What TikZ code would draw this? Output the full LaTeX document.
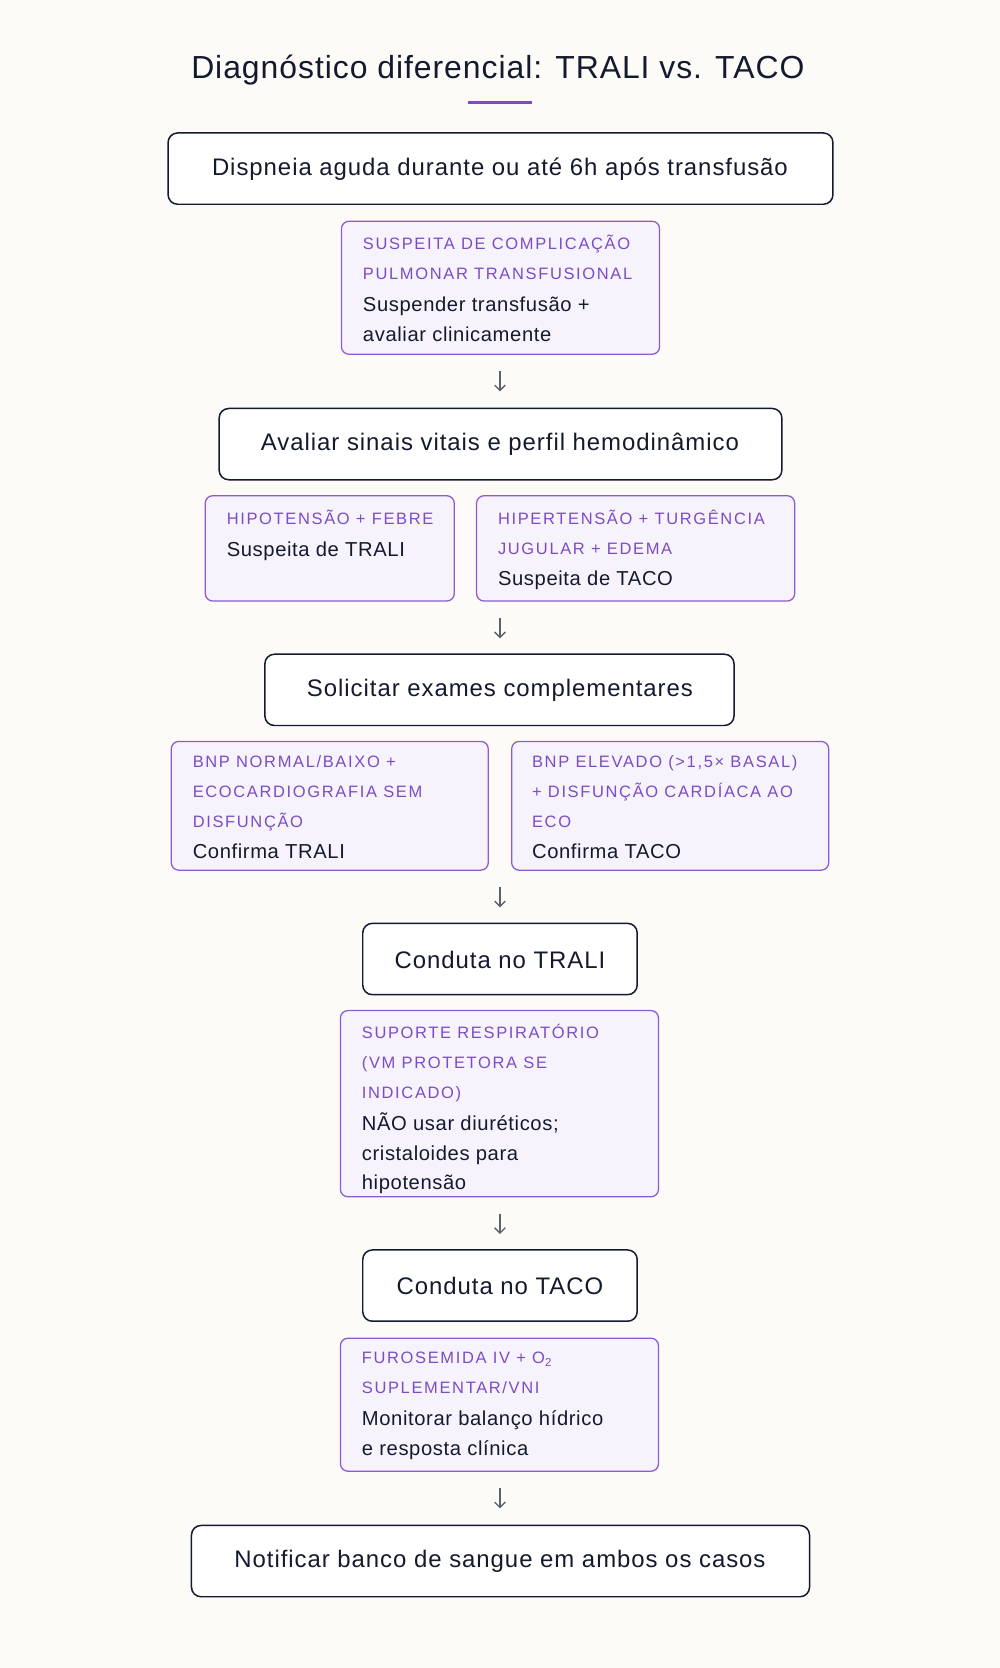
\documentclass[tikz,border=0pt]{standalone}
\usepackage{fontspec}
\setmainfont{Liberation Sans}
\usetikzlibrary{arrows.meta}
\definecolor{bg}{HTML}{FDFBF8}
\definecolor{pur}{HTML}{7B4CC4}
\definecolor{purb}{HTML}{8A5CD0}
\definecolor{lav}{HTML}{F7F3FD}
\definecolor{ink}{HTML}{141A2E}
\definecolor{arr}{HTML}{5A6270}
\tikzset{x=1pt,y=-1pt,
 box/.style={draw=ink,line width=1.4pt,rounded corners=9pt,fill=white},
 note/.style={draw=purb,line width=1.2pt,rounded corners=7pt,fill=lav},
 btxt/.style={text=ink,font=\fontsize{22.5}{26}\selectfont\addfontfeature{LetterSpace=4}},
 ntxt/.style={anchor=north west,align=left,inner sep=0pt,text=ink,font=\fontsize{19}{28}\selectfont\addfontfeature{LetterSpace=3}},
 ar/.style={draw=arr,line width=1.3pt,-{Straight Barb[length=5pt,width=10pt]}}}
\newcommand{\labon}{\color{pur}\fontsize{15.5}{22}\selectfont\addfontfeature{LetterSpace=10}}
\begin{document}
\begin{tikzpicture}
\fill[bg] (0,0) rectangle (940,1568);
\useasboundingbox (0,0) rectangle (940,1568);
\node[text=ink,font=\fontsize{30}{34}\selectfont\addfontfeature{LetterSpace=3}] (title) at (468,66) {Diagnóstico diferencial: TRALI vs. TACO};
\draw[pur,line width=3pt] (440,96) -- (500,96);
% boxes
\draw[box] (158,125) rectangle (783,192); \node[btxt] (b1) at (470,159) {Dispneia aguda durante ou até 6h após transfusão};
\draw[box] (206,384) rectangle (735,451); \node[btxt] (b2) at (470,418) {Avaliar sinais vitais e perfil hemodinâmico};
\draw[box] (249,615) rectangle (690,682); \node[btxt] (b3) at (470,649) {Solicitar exames complementares};
\draw[box] (341,868) rectangle (599,935); \node[btxt] (b4) at (470,902) {Conduta no TRALI};
\draw[box] (341,1175) rectangle (599,1242); \node[btxt] (b5) at (470,1209) {Conduta no TACO};
\draw[box] (180,1434) rectangle (761,1501); \node[btxt] (b6) at (470,1468) {Notificar banco de sangue em ambos os casos};
% notes
\draw[note] (321,208) rectangle (620,333);
\node[ntxt] (n1) at (341,221) {\labon SUSPEITA DE COMPLICAÇÃO\\\labon PULMONAR TRANSFUSIONAL\\[2pt]Suspender transfusão +\\avaliar clinicamente};
\draw[note] (193,466) rectangle (427,565);
\node[ntxt] (n2) at (213,479) {\labon HIPOTENSÃO + FEBRE\\[2pt]Suspeita de TRALI};
\draw[note] (448,466) rectangle (747,565);
\node[ntxt] (n3) at (468,479) {\labon HIPERTENSÃO + TURGÊNCIA\\\labon JUGULAR + EDEMA\\[2pt]Suspeita de TACO};
\draw[note] (161,697) rectangle (459,818);
\node[ntxt] (n4) at (181,710) {\labon BNP NORMAL/BAIXO +\\\labon ECOCARDIOGRAFIA SEM\\\labon DISFUNÇÃO\\[2pt]Confirma TRALI};
\draw[note] (481,697) rectangle (779,818);
\node[ntxt] (n5) at (500,710) {\labon BNP ELEVADO (>1,5× BASAL)\\\labon + DISFUNÇÃO CARDÍACA AO\\\labon ECO\\[2pt]Confirma TACO};
\draw[note] (320,950) rectangle (619,1125);
\node[ntxt] (n6) at (340,963) {\labon SUPORTE RESPIRATÓRIO\\\labon (VM PROTETORA SE\\\labon INDICADO)\\[2pt]NÃO usar diuréticos;\\cristaloides para\\hipotensão};
\draw[note] (320,1258) rectangle (619,1383);
\node[ntxt] (n7) at (340,1271) {\labon FUROSEMIDA IV + O\textsubscript{2}\\\labon SUPLEMENTAR/VNI\\[2pt]Monitorar balanço hídrico\\e resposta clínica};
% arrows
\foreach \y/\i in {349/a,581/b,834/c,1141/d,1399/e}{
 \coordinate (s\i) at (470,\y); \coordinate (t\i) at (470,\y+19);
 \draw[ar] (s\i) -- (t\i);}
\end{tikzpicture}
\end{document}
